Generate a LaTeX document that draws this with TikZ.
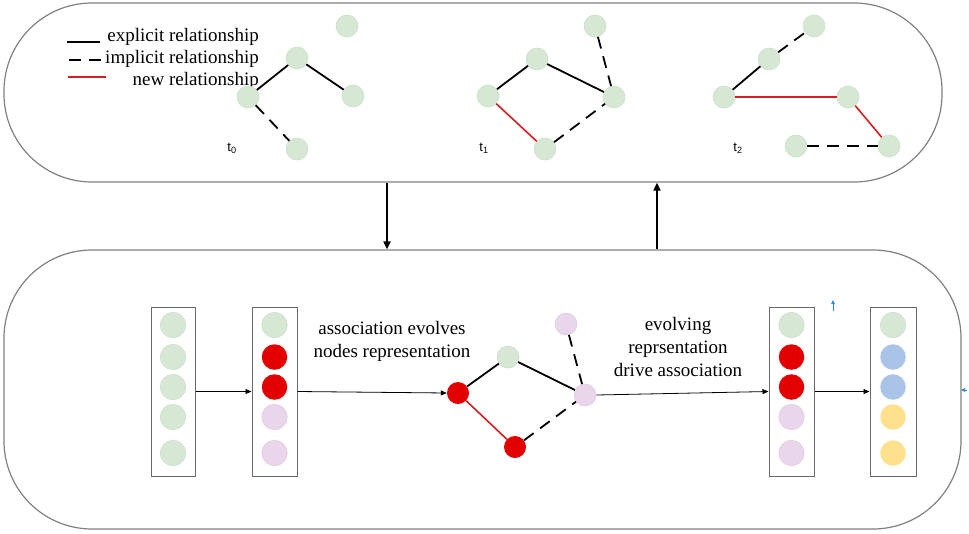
\documentclass[tikz,border=0pt]{standalone}
\usepackage{fontspec}
\setmainfont{Liberation Serif}
\newfontfamily\lsans{Liberation Sans}
\usetikzlibrary{arrows.meta}
\definecolor{ngreen}{RGB}{214,232,212}
\definecolor{ngreenb}{RGB}{200,224,200}
\definecolor{nred}{RGB}{226,0,0}
\definecolor{npink}{RGB}{233,214,234}
\definecolor{npinkb}{RGB}{222,204,226}
\definecolor{nblue}{RGB}{170,196,232}
\definecolor{nyellow}{RGB}{255,224,140}
\definecolor{stgray}{RGB}{128,128,128}
\definecolor{bxgray}{RGB}{105,105,105}
\definecolor{ered}{RGB}{214,30,30}
\definecolor{tblue}{RGB}{40,140,210}
\tikzset{
  stadium/.style={draw=stgray, line width=1.2pt, rounded corners=88pt, inner sep=0pt},
  gn/.style={circle, minimum size=22pt, inner sep=0pt, fill=ngreen, draw=ngreenb, line width=0.6pt},
  rn/.style={circle, minimum size=22pt, inner sep=0pt, fill=nred},
  pn/.style={circle, minimum size=22pt, inner sep=0pt, fill=npink, draw=npinkb, line width=0.6pt},
  cg/.style={circle, minimum size=25.5pt, inner sep=0pt, fill=ngreen, draw=ngreenb, line width=0.6pt},
  cr/.style={circle, minimum size=25.5pt, inner sep=0pt, fill=nred},
  cp/.style={circle, minimum size=25.5pt, inner sep=0pt, fill=npink, draw=npinkb, line width=0.6pt},
  cb/.style={circle, minimum size=25.5pt, inner sep=0pt, fill=nblue},
  cy/.style={circle, minimum size=25.5pt, inner sep=0pt, fill=nyellow},
  colbox/.style={draw=bxgray, line width=1pt, minimum height=169pt, inner sep=0pt},
  expl/.style={black, line width=1.8pt},
  impl/.style={black, line width=1.8pt, dash pattern=on 12pt off 8pt},
  newr/.style={ered, line width=1.6pt},
  thinarr/.style={black, line width=0.8pt, -{Triangle[length=6pt,width=5pt]}},
  bigarr/.style={black, line width=1.8pt, -{Triangle[length=8pt,width=7pt]}},
  lbl/.style={font=\fontsize{19}{23}\selectfont, inner sep=0pt},
  tl/.style={font=\lsans\fontsize{13}{15}\selectfont, inner sep=0pt},
}
\begin{document}
\begin{tikzpicture}[x=1pt,y=-1pt]
\useasboundingbox (0,0) rectangle (969,533);
% containers
\node[stadium, minimum width=938pt, minimum height=179pt] (top) at (473,92.5) {};
\node[stadium, minimum width=957pt, minimum height=279pt] (bot) at (482.5,389.5) {};
\coordinate (cdown) at (387,0);
\coordinate (cup) at (657,0);
\draw[bigarr] (top.south -| cdown) -- (bot.north -| cdown);
\draw[bigarr] (bot.north -| cup) -- (top.south -| cup);

% legend
\node[lbl, anchor=east] (l1) at (259,37) {explicit relationship};
\node[lbl, anchor=east] (l2) at (259,59) {implicit relationship};
\node[lbl, anchor=east] (l3) at (259,81) {new relationship};
\coordinate (la1) at (67,42); \coordinate (lb1) at (100,42);
\coordinate (la2) at (69,60); \coordinate (lb2) at (105,60);
\coordinate (la3) at (68,77); \coordinate (lb3) at (106,77);
\draw[expl] (la1) -- (lb1);
\draw[impl] (la2) -- (lb2);
\draw[newr] (la3) -- (lb3);

% t0
\node[gn] (a1) at (347,26) {};
\node[gn] (a2) at (297,58) {};
\node[gn] (a3) at (248,97) {};
\node[gn] (a4) at (353,96) {};
\node[gn] (a5) at (297,149) {};
\draw[expl] (a3) -- (a2);
\draw[expl] (a2) -- (a4);
\draw[impl] (a3) -- (a5);
\node[tl] (t0) at (232,148) {t\textsubscript{0}};

% t1
\node[gn] (b1n) at (595,26) {};
\node[gn] (b2n) at (537,59) {};
\node[gn] (b3n) at (488,96) {};
\node[gn] (b4n) at (614,97) {};
\node[gn] (b5n) at (545,149) {};
\draw[expl] (b3n) -- (b2n);
\draw[expl] (b2n) -- (b4n);
\draw[impl] (b1n) -- (b4n);
\draw[newr] (b3n) -- (b5n);
\draw[impl] (b5n) -- (b4n);
\node[tl] (t1) at (484,148) {t\textsubscript{1}};

% t2
\node[gn] (c1n) at (814,26) {};
\node[gn] (c2n) at (769,59) {};
\node[gn] (c3n) at (724,97) {};
\node[gn] (c4n) at (848,97) {};
\node[gn] (c5n) at (796,146) {};
\node[gn] (c6n) at (889,146) {};
\draw[impl] (c2n) -- (c1n);
\draw[expl] (c3n) -- (c2n);
\draw[newr] (c3n) -- (c4n);
\draw[newr] (c4n) -- (c6n);
\draw[impl] (c5n) -- (c6n);
\node[tl] (t2) at (738,148) {t\textsubscript{2}};

% bottom columns
\node[colbox, minimum width=44pt] (k1) at (173,391.5) {};
\node[colbox, minimum width=45pt] (k2) at (274.5,391.5) {};
\node[colbox, minimum width=45pt] (k3) at (791.5,391.5) {};
\node[colbox, minimum width=46pt] (k4) at (893,391.5) {};

\node[cg] (k1a) at (173,325) {};
\node[cg] (k1b) at (173,357) {};
\node[cg] (k1c) at (173,387) {};
\node[cg] (k1d) at (173,417) {};
\node[cg] (k1e) at (173,453) {};

\node[cg] (k2a) at (274.5,325) {};
\node[cr] (k2b) at (274.5,357) {};
\node[cr] (k2c) at (274.5,387) {};
\node[cp] (k2d) at (274.5,417) {};
\node[cp] (k2e) at (274.5,453) {};

\node[cg] (k3a) at (791.5,325) {};
\node[cr] (k3b) at (791.5,357) {};
\node[cr] (k3c) at (791.5,387) {};
\node[cp] (k3d) at (791.5,417) {};
\node[cp] (k3e) at (791.5,453) {};

\node[cg] (k4a) at (893,325) {};
\node[cb] (k4b) at (893,357) {};
\node[cb] (k4c) at (893,387) {};
\node[cy] (k4d) at (893,417) {};
\node[cy] (k4e) at (893,453) {};

% bottom graph
\node[rn] (g1) at (458,393) {};
\node[gn] (g2) at (508,357) {};
\node[pn] (g3) at (566,324) {};
\node[pn] (g4) at (585,395) {};
\node[rn] (g5) at (515,447) {};
\draw[expl] (g1) -- (g2);
\draw[expl] (g2) -- (g4);
\draw[impl] (g3) -- (g4);
\draw[newr] (g1) -- (g5);
\draw[impl] (g5) -- (g4);

% flow arrows
\draw[thinarr] (k1.east) -- (k2.west);
\draw[thinarr] (k2.east) -- (g1.west);
\draw[thinarr] (g4.east) -- (k3.west);
\draw[thinarr] (k3.east) -- (k4.west);

% texts
\node[lbl, align=center] (txa) at (392,341.5) {association evolves\\nodes representation};
\node[lbl, align=center] (txb) at (678,346.5) {evolving\\reprsentation\\drive association};

% small blue marks
\coordinate (ba1) at (833,311); \coordinate (ba2) at (833,300);
\draw[tblue, line width=0.8pt, -{Triangle[length=4pt,width=3.5pt]}] (ba1) -- (ba2);
\coordinate (bb1) at (967,390); \coordinate (bb2) at (961,390);
\draw[tblue, line width=0.8pt, -{Triangle[length=4pt,width=3.5pt]}] (bb1) -- (bb2);
\end{tikzpicture}
\end{document}
